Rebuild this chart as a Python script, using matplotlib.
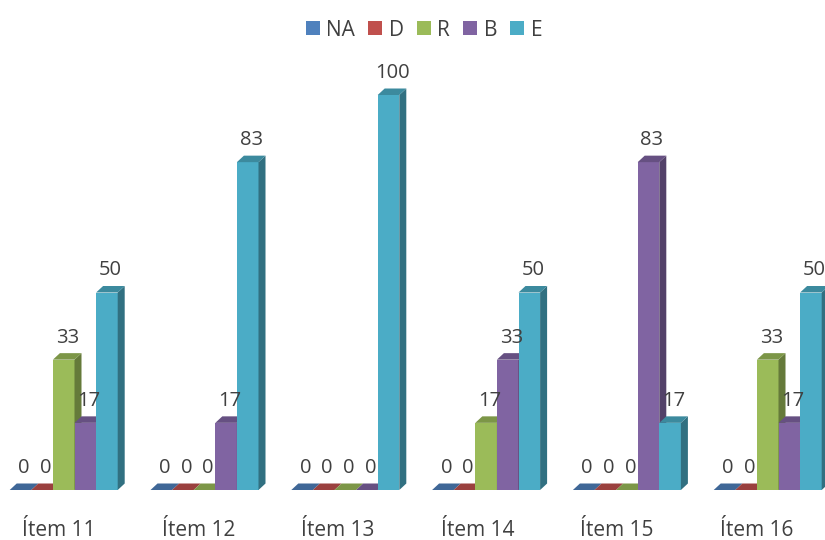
import numpy as np
import matplotlib.pyplot as plt
from matplotlib.patches import Polygon, Patch
from matplotlib.colors import to_rgb

items = ['Ítem 11', 'Ítem 12', 'Ítem 13', 'Ítem 14', 'Ítem 15', 'Ítem 16']
series = ['NA', 'D', 'R', 'B', 'E']
NA = [0, 0, 0, 0, 0, 0]
D = [0, 0, 0, 0, 0, 0]
R = [33, 0, 0, 17, 0, 33]
B = [17, 17, 0, 33, 83, 17]
E = [50, 83, 100, 50, 17, 50]
colors = ['#4F81BD', '#C0504D', '#9BBB59', '#8064A2', '#4BACC6']

plt.rcParams['font.family'] = ['Open Sans', 'DejaVu Sans']
text_color = '#404040'


def shade(c, f):
    r, g, b = to_rgb(c)
    return (r * f, g * f, b * f)


W, H = 825, 540
fig = plt.figure(figsize=(W / 100, H / 100), dpi=100)
unit = 140.8  # px per category
base_px, top_px = 50, 445
ypx = 100 / (top_px - base_px)  # data units per px
ax = fig.add_axes([0, base_px / H, 1, (top_px - base_px) / H])
ax.set_xlim(-63.7 / unit, (W - 63.7) / unit)
ax.set_ylim(0, 100)
ax.axis('off')

w = 21.6 / unit
dx = 7 / unit
dy = 6.5 * ypx

data = [NA, D, R, B, E]
x = np.arange(len(items))
z = 2
for i in x:
    for j, vals in enumerate(data):
        h = vals[i]
        x0 = i + (j - 2) * w - w / 2
        x1 = x0 + w
        c = colors[j]
        ax.bar(x0, h, width=w, align='edge', color=c, edgecolor='none',
               zorder=z, clip_on=False)
        side = Polygon([(x1, 0), (x1, h), (x1 + dx, h + dy), (x1 + dx, dy)],
                       closed=True, facecolor=shade(c, 0.65), edgecolor='none',
                       zorder=z, clip_on=False)
        top = Polygon([(x0, h), (x1, h), (x1 + dx, h + dy), (x0 + dx, h + dy)],
                      closed=True, facecolor=shade(c, 0.8), edgecolor='none',
                      zorder=z, clip_on=False)
        ax.add_patch(side)
        ax.add_patch(top)
        ax.annotate(str(h), (x0 + w / 2 + dx / 2, h + dy), xytext=(0, 4),
                    textcoords='offset points', ha='center', va='bottom',
                    fontsize=14.5, color=text_color, zorder=100,
                    annotation_clip=False)
        z += 1
    ax.text(i - (5 + 1.2 * i) / unit, -41 * ypx, items[i], ha='center',
            va='center', fontsize=15, color=text_color)

handles = [Patch(facecolor=c, edgecolor='none') for c in colors]
fig.legend(handles, series, loc='center', bbox_to_anchor=(424 / W, 1 - 30 / H),
           ncol=5, frameon=False, fontsize=15, handlelength=0.67,
           handleheight=0.67, handletextpad=0.32, columnspacing=0.62,
           labelcolor=text_color, borderpad=0)

fig.savefig('out.png', dpi=100)
